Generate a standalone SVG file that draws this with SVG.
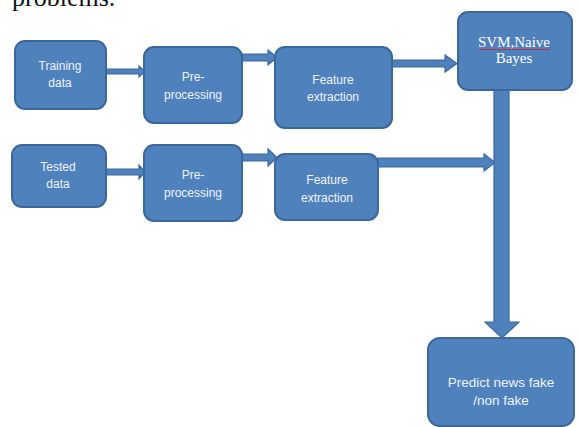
<svg xmlns="http://www.w3.org/2000/svg" width="578" height="427" viewBox="0 0 578 427">
<style>
.box{fill:#4F81BD;stroke:#3A679C;stroke-width:2}
.arr{fill:#4F81BD;stroke:#3A679C;stroke-width:1.2;stroke-linejoin:miter}
.t{font-family:"Liberation Sans",Arial,sans-serif;font-size:12px;fill:#EEF3FA;text-anchor:middle}
.s{font-family:"Liberation Serif","Times New Roman",serif;font-size:15px;fill:#FFFFFF;text-anchor:middle}
</style>
<rect width="578" height="427" fill="#FFFFFF"/>
<text x="12" y="6" font-family="Liberation Serif,serif" font-size="26" fill="#111">problems.</text>
<g id="connectors">
<polygon class="arr" points="106,69 139,69 139,66 145,71.5 139,77 139,74 106,74"/>
<polygon class="arr" points="242,54 268,54 268,50 277,57.5 268,65 268,61 242,61"/>
<polygon class="arr" points="392,60 445,60 445,55 457,63.5 445,72 445,67 392,67"/>
<polygon class="arr" points="106,169 139,169 139,165 145,172 139,179 139,175 106,175"/>
<polygon class="arr" points="242,154 268,154 268,149 277,157.5 268,166 268,161 242,161"/>
<polygon class="arr" points="378,158 484,158 484,154 495,162.5 484,171 484,167 378,167"/>
<polygon class="arr" points="494,90 509,90 509,322 519,322 502,338 485,322 494,322"/>
</g>
<g id="training">
<rect class="box" x="15" y="41" width="91" height="68" rx="10"/>
<text class="t" x="60" y="70">Training</text>
<text class="t" x="60" y="87">data</text>
</g>
<g id="preprocess1">
<rect class="box" x="144" y="47" width="98" height="76" rx="10"/>
<text class="t" x="193" y="81">Pre-</text>
<text class="t" x="193" y="99">processing</text>
</g>
<g id="feature1">
<rect class="box" x="275" y="47" width="117" height="81" rx="10"/>
<text class="t" x="333" y="84">Feature</text>
<text class="t" x="333" y="101">extraction</text>
</g>
<g id="svm">
<rect class="box" x="458" y="12" width="114" height="78" rx="10"/>
<line x1="479" y1="49.5" x2="550" y2="49.5" stroke="#C0304A" stroke-width="1.2"/>
<text class="s" x="514" y="47">SVM,Naive</text>
<text class="s" x="514" y="63">Bayes</text>
</g>
<g id="tested">
<rect class="box" x="12" y="145" width="94" height="62" rx="10"/>
<text class="t" x="58" y="171">Tested</text>
<text class="t" x="58" y="188">data</text>
</g>
<g id="preprocess2">
<rect class="box" x="144" y="145" width="98" height="76" rx="10"/>
<text class="t" x="193" y="179">Pre-</text>
<text class="t" x="193" y="197">processing</text>
</g>
<g id="feature2">
<rect class="box" x="275" y="154" width="103" height="66" rx="10"/>
<text class="t" x="327" y="184">Feature</text>
<text class="t" x="327" y="202">extraction</text>
</g>
<g id="predict">
<rect class="box" x="428" y="338" width="146" height="88" rx="12"/>
<text class="t" x="501" y="387" style="font-size:13.5px">Predict news fake</text>
<text class="t" x="501" y="405" style="font-size:13.5px">/non fake</text>
</g>
</svg>
